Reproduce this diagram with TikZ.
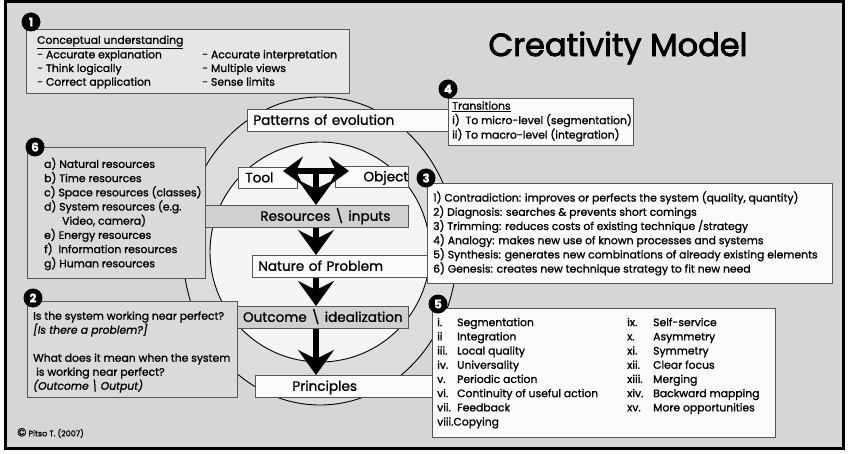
\documentclass[tikz,border=0pt]{standalone}
\usepackage{fontspec}
\setmainfont{Poppins}[FakeBold=1.2]
\newfontfamily\titlefont{Poppins}[FakeBold=2.5]
\usetikzlibrary{arrows.meta}
\definecolor{bgc}{HTML}{D6D6D6}
\definecolor{ringc}{HTML}{DCDCDC}
\definecolor{innc}{HTML}{F5F5F5}
\definecolor{whc}{HTML}{FBFBFB}
\definecolor{gboxc}{HTML}{D0D0D0}
\definecolor{boxonec}{HTML}{E6E6E6}
\definecolor{sboxc}{HTML}{DADADA}
\definecolor{bordc}{HTML}{555555}
\newcommand{\lstf}{\fontsize{10.8}{14.2}\selectfont}
\newcommand{\clab}{\fontsize{13.6}{15}\selectfont}
\begin{document}
\begin{tikzpicture}[x=1pt,y=-1pt,
  panel/.style={draw=bordc, line width=0.7pt, anchor=north west, inner sep=0pt},
  txt/.style={anchor=west, inner sep=0pt, align=left, font=\lstf},
  cbox/.style={panel, font=\clab, text height=11pt, text depth=2pt, minimum height=22pt},
  badge/.style={circle, fill=black, minimum size=19pt, inner sep=0pt, text=white, font=\fontsize{12}{12}\selectfont\bfseries},
  bigarrow/.style={line width=6pt, -{Stealth[length=25pt,width=36pt,inset=9pt]}},
  tarrow/.style={line width=6pt, -{Stealth[length=20pt,width=29pt,inset=7pt]}}
]
\useasboundingbox (0,0) rectangle (850,454);
\fill[white] (0,0) rectangle (850,454);
\draw[line width=3pt, fill=bgc] (5,2) rectangle (843.5,448.5);

% title
\node[font=\titlefont\fontsize{32}{36}\selectfont] (title) at (618,48) {Creativity Model};

% circles
\draw[line width=0.9pt, fill=ringc] (320,251) ellipse [x radius=137, y radius=154];
\draw[line width=0.9pt, fill=innc] (320,252) circle [radius=110];

% box 1
\node[panel, fill=boxonec, minimum width=323pt, minimum height=64pt] (b1) at (26,29) {};
\node[txt, font=\fontsize{10.8}{13.7}\selectfont] (t1) at (37,62) {%
\begin{tabular}{@{}p{165pt}@{}l@{}}
\underline{Conceptual understanding} & \\
- Accurate explanation & - Accurate interpretation\\
- Think logically & - Multiple views\\
- Correct application & - Sense limits
\end{tabular}};

% box 6
\node[panel, fill=sboxc, minimum width=178pt, minimum height=131pt] (b6) at (27,147) {};
\node[txt] (t6) at (44,214) {a) Natural resources\\ b) Time resources\\ c) Space resources (classes)\\ d) System resources (e.g.\\ \hspace*{18pt}Video, camera)\\ e) Energy resources\\ f)\ \ Information resources\\ g) Human resources};

% box 2
\node[panel, fill=sboxc, minimum width=210pt, minimum height=96pt] (b2) at (27,301) {};
\node[txt, font=\fontsize{10.8}{14}\selectfont] (t2) at (33,352) {Is the system working near perfect?\\ \textit{[Is there a problem?]}\\[14pt] What does it mean when the system\\ \hspace*{3pt}is working near perfect?\\ \textit{(Outcome \textbackslash\ Output)}};

% central boxes
\node[cbox, fill=whc, text width=201pt, align=left] (pat) at (247,109) {\hspace*{6pt}Patterns of evolution};
\node[cbox, fill=whc, text width=59pt, align=left, minimum height=21pt] (tool) at (238,167) {\hspace*{7pt}Tool};
\node[cbox, fill=whc, text width=73pt, align=right, minimum height=21pt] (obj) at (335,166) {Object\hspace*{4pt}};
\node[cbox, fill=gboxc, text width=203pt, align=left] (res) at (205,205) {\hspace*{55pt}Resources \textbackslash\ inputs};
\node[cbox, fill=whc, text width=175pt, align=left] (nat) at (252,255) {\hspace*{6pt}Nature of Problem};
\node[cbox, fill=gboxc, text width=171pt, align=center] (out) at (237,306) {Outcome \textbackslash\ idealization};
\node[cbox, fill=whc, text width=177pt, align=left] (pri) at (255,375) {\hspace*{37pt}Principles};

% arrows
\coordinate (tj) at (316,171);
\coordinate (tl) at (283,171);
\coordinate (tr) at (349,171);
\draw[tarrow] (tj) -- (tl);
\draw[tarrow] (tj) -- (tr);
\draw[bigarrow] (tj) -- (tj |- res.north);
\draw[bigarrow] (tj |- res.south) -- (tj |- nat.north);
\draw[bigarrow] (tj |- nat.south) -- (tj |- out.north);
\draw[bigarrow] (tj |- out.south) -- (tj |- pri.north);

% box 4
\node[panel, fill=whc, minimum width=185pt, minimum height=47pt] (b4) at (448,98) {};
\node[txt, font=\fontsize{10.8}{14.5}\selectfont] (t4) at (452,121.5) {\underline{Transitions}\\ i)\ \ To micro-level (segmentation)\\ ii) To macro-level (integration)};

% box 3
\node[panel, fill=whc, minimum width=405pt, minimum height=100pt] (b3) at (427,183) {};
\node[txt] (t3) at (433,233.5) {1) Contradiction: improves or perfects the system (quality, quantity)\\ 2) Diagnosis: searches \& prevents short comings\\ 3) Trimming: reduces costs of existing technique /strategy\\ 4) Analogy: makes new use of known processes and systems\\ 5) Synthesis: generates new combinations of already existing elements\\ 6) Genesis: creates new technique strategy to fit new need};

% box 5
\node[panel, fill=whc, minimum width=343pt, minimum height=129pt] (b5) at (432,308) {};
\node[txt] (t5) at (437,373) {%
\begin{tabular}{@{}p{20pt}@{}p{170pt}@{}p{26pt}@{}l@{}}
i. & Segmentation & ix. & Self-service\\
ii & Integration & x. & Asymmetry\\
iii. & Local quality & xi. & Symmetry\\
iv. & Universality & xii. & Clear focus\\
v. & Periodic action & xiii. & Merging\\
vi. & Continuity of useful action & xiv. & Backward mapping\\
vii. & Feedback & xv. & More opportunities\\
\multicolumn{2}{@{}l}{viii.Copying} & & \\
\end{tabular}};

% badges
\node[badge] (n1) at (31,22) {1};
\node[badge] (n4) at (448,89) {4};
\node[badge] (n6) at (35,147) {6};
\node[badge] (n3) at (426,178) {3};
\node[badge] (n2) at (33,298) {2};
\node[badge] (n5) at (438,304) {5};

% copyright
\node[anchor=west, inner sep=0pt, font=\fontsize{8}{9}\selectfont] (copy) at (17,433) {{\fontsize{11.5}{11}\selectfont\textcopyright}\ Pitso T. (2007)};
\end{tikzpicture}
\end{document}
